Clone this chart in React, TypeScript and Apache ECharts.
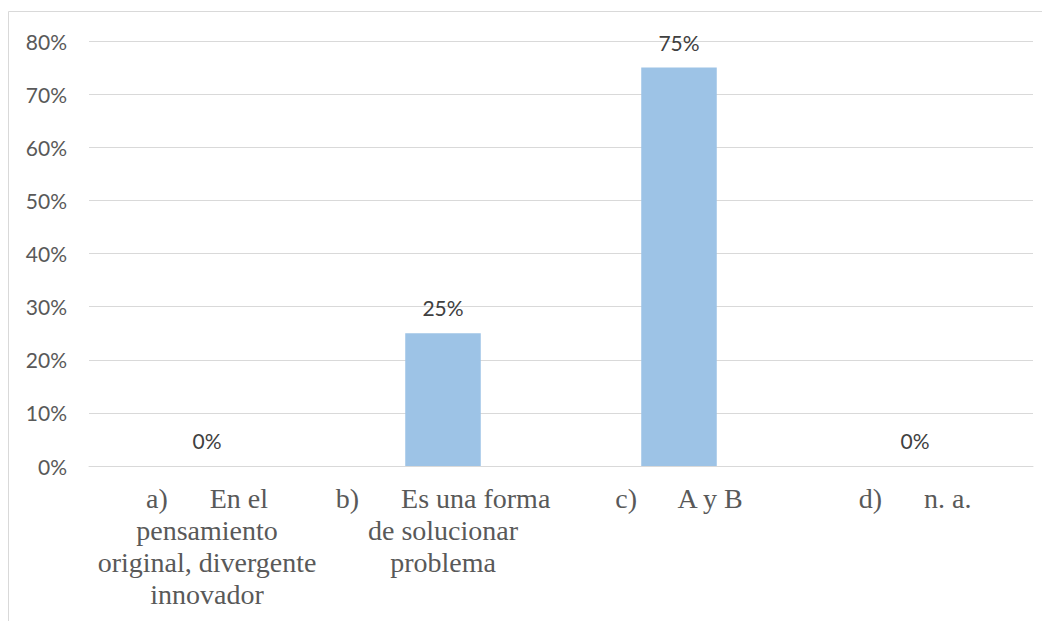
import React, { useEffect, useRef } from "react";
import * as echarts from "echarts";

const categories = [
  "a)      En el\npensamiento\noriginal, divergente\ninnovador",
  "b)      Es una forma\nde solucionar\nproblema",
  "c)      A y B",
  "d)      n. a.",
];
const values = [0, 0.25, 0.75, 0];
const yTicks = { min: 0, max: 0.8, interval: 0.1 };

export default function App() {
  const ref = useRef<HTMLDivElement>(null);
  useEffect(() => {
    const chart = echarts.init(ref.current!, undefined, { renderer: "svg" });
    chart.setOption({
      animation: false,
      backgroundColor: "#ffffff",
      graphic: [
        {
          type: "rect",
          shape: { x: 0.5, y: 3.5, width: 1200, height: 800 },
          style: { fill: "none", stroke: "#d9d9d9", lineWidth: 1 },
          silent: true,
        },
      ],
      grid: { left: 81, right: 17, top: 33, bottom: 155 },
      xAxis: {
        type: "category",
        data: categories,
        axisLine: { lineStyle: { color: "#d9d9d9", width: 1 } },
        axisTick: { show: false },
        axisLabel: {
          color: "#595959",
          fontFamily: "Liberation Serif",
          fontSize: 28,
          lineHeight: 32,
          margin: 16,
          interval: 0,
        },
      },
      yAxis: {
        type: "value",
        min: yTicks.min,
        max: yTicks.max,
        interval: yTicks.interval,
        axisLine: { show: false },
        axisTick: { show: false },
        splitLine: { lineStyle: { color: "#d9d9d9", width: 1 } },
        axisLabel: {
          color: "#595959",
          fontFamily: "Lato",
          fontSize: 21,
          margin: 22,
          formatter: (v: number) => Math.round(v * 100) + "%",
        },
      },
      series: [
        {
          type: "bar",
          data: values,
          barWidth: "32%",
          itemStyle: { color: "#9dc3e6" },
          label: {
            show: true,
            position: "top",
            distance: 15,
            color: "#404040",
            fontFamily: "Lato",
            fontSize: 21,
            formatter: (p: any) => Math.round(p.value * 100) + "%",
          },
        },
      ],
    });
    return () => chart.dispose();
  }, []);
  return <div ref={ref} style={{ width: 1042, height: 613 }} />;
}
